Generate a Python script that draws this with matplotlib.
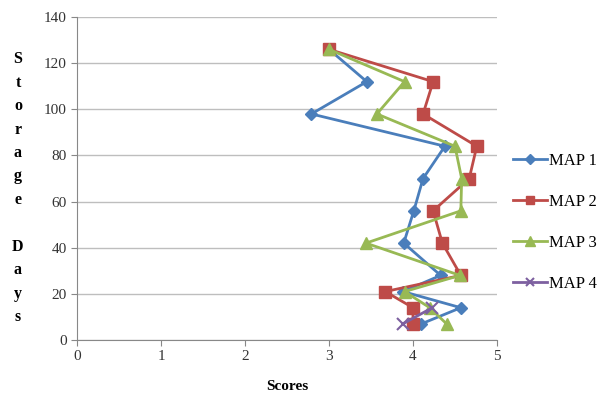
import matplotlib
matplotlib.use("Agg")
import matplotlib.pyplot as plt

plt.rcParams['font.family'] = ['Liberation Serif', 'DejaVu Serif']

days = [126, 112, 98, 84, 70, 56, 42, 28, 21, 14, 7]
map1 = [3.0, 3.45, 2.79, 4.38, 4.12, 4.01, 3.89, 4.33, 3.88, 4.57, 4.1]
map2 = [3.0, 4.24, 4.12, 4.76, 4.67, 4.24, 4.35, 4.57, 3.67, 4.0, 4.0]
map3 = [3.0, 3.9, 3.57, 4.5, 4.58, 4.57, 3.44, 4.56, 3.9, 4.2, 4.4]
map4_days = [14, 7]
map4 = [4.23, 3.88]

fig = plt.figure(figsize=(5.98, 3.97), dpi=100)
ax = fig.add_axes([0.129, 0.1436, 0.702, 0.8134])

ax.plot(map1, days, color='#4A7EBB', marker='D', markersize=6, lw=2, label='MAP 1')
ax.plot(map2, days, color='#BE4B48', marker='s', markersize=8, lw=2, label='MAP 2')
ax.plot(map3, days, color='#98B954', marker='^', markersize=9, lw=2, label='MAP 3')
ax.plot(map4, map4_days, color='#7D60A0', marker='x', markersize=8, mew=1.5, lw=2, label='MAP 4')

ax.set_xlim(0, 5)
ax.set_ylim(0, 140)
ax.set_xticks(range(0, 6))
ax.set_yticks(range(0, 141, 20))
ax.yaxis.grid(True, color='#BEBEBE', lw=1)
ax.set_axisbelow(True)
for s in ['top', 'right']:
    ax.spines[s].set_visible(False)
for s in ['left', 'bottom']:
    ax.spines[s].set_color('#888888')
ax.tick_params(direction='out', length=4, color='#888888', labelsize=11, labelcolor='#333333')

ax.set_xlabel('Scores', fontweight='bold', fontsize=11, labelpad=12)
ylab = '\n'.join('Storage Days')
fig.text(0.03, 0.526, ylab, fontweight='bold', fontsize=11.5, ha='center', va='center',
         linespacing=1.62)

ax.legend(loc='center left', bbox_to_anchor=(1.015, 0.365), frameon=False, fontsize=12,
          handlelength=2.0, markerscale=0.8, labelspacing=1.5, handletextpad=0.15,
          borderaxespad=0.2)

fig.savefig('out.png', dpi=100)
